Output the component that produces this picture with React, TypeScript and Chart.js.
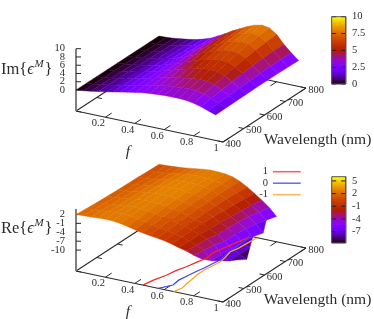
import React, { useEffect, useRef } from "react";
import { Chart, registerables } from "chart.js";

Chart.register(...registerables);

const fractions = [0, .05, .1, .15, .2, .25, .3, .35, .4, .45, .5, .55, .6, .65, .7, .75, .8, .85, .9, .95];
const imWavelengths = [400, 450, 500, 550, 600, 650, 700, 750, 800];
const imRow400 = [0, .2, .45, .75, 1.05, 1.4, 1.75, 2.1, 2.4, 2.7, 2.9, 3.05, 3.15, 3.2, 3.2, 3.1, 2.8, 2.3, 1.7, 1.1];
const imRow450 = [0, .18, .42, .72, 1.02, 1.38, 1.78, 2.15, 2.5, 2.9, 3.2, 3.45, 3.65, 3.8, 3.9, 3.8, 3.4, 2.7, 1.9, 1.15];
const imRow500 = [0, .15, .4, .7, 1.0, 1.35, 1.8, 2.2, 2.65, 3.05, 3.5, 3.85, 4.15, 4.4, 4.6, 4.5, 4.0, 3.1, 2.1, 1.2];
const imRow550 = [0, .13, .38, .68, .98, 1.32, 1.75, 2.25, 2.75, 3.3, 3.85, 4.3, 4.75, 5.1, 5.3, 5.15, 4.55, 3.45, 2.25, 1.25];
const imRow600 = [0, .12, .35, .65, .95, 1.3, 1.7, 2.3, 2.85, 3.5, 4.2, 4.8, 5.35, 5.8, 6.0, 5.8, 5.1, 3.8, 2.4, 1.3];
const imRow650 = [0, .11, .32, .62, .92, 1.28, 1.68, 2.25, 2.95, 3.7, 4.5, 5.2, 5.85, 6.4, 6.6, 6.4, 5.5, 4.05, 2.55, 1.3];
const imRow700 = [0, .1, .3, .6, .9, 1.25, 1.65, 2.2, 3.0, 3.85, 4.75, 5.55, 6.3, 6.9, 7.2, 6.95, 5.9, 4.3, 2.7, 1.3];
const imRow750 = [0, .08, .25, .52, .8, 1.12, 1.58, 2.15, 3.0, 3.9, 4.9, 5.75, 6.55, 7.2, 7.6, 7.3, 6.2, 4.4, 2.7, 1.25];
const imRow800 = [0, .05, .2, .45, .7, 1.0, 1.5, 2.1, 3.0, 3.95, 5.0, 5.9, 6.8, 7.5, 7.9, 7.6, 6.4, 4.4, 2.7, 1.2];
const imRows = [imRow400, imRow450, imRow500, imRow550, imRow600, imRow650, imRow700, imRow750, imRow800];

const reWavelengths = [400, 450, 500, 550, 600, 650, 700, 750, 800];
const n = null;
const reRow400 = [2.0, 2.1, 2.2, 2.35, 2.45, 2.4, 2.1, 1.6, 1.0, .5, .1, -.2, -.6, -1.2, -1.9, -2.5, -3.4, -4, n, n];
const reRow450 = [1.7, 1.85, 2.0, 2.25, 2.45, 2.45, 2.3, 1.85, 1.3, .8, .4, 0, -.5, -1.1, -1.9, -2.8, -4, -7, n, n];
const reRow500 = [1.5, 1.65, 1.9, 2.15, 2.35, 2.55, 2.5, 2.15, 1.7, 1.2, .8, .25, -.4, -1.1, -2, -3, -4.5, -7.2, -8.8, -8];
const reRow550 = [1.3, 1.5, 1.75, 2.05, 2.35, 2.6, 2.7, 2.45, 2.05, 1.55, 1.1, .45, -.3, -1.1, -2.3, -3.7, -5.5, -7.5, -8.8, -10];
const reRow600 = [1.15, 1.35, 1.65, 2.0, 2.35, 2.65, 2.75, 2.7, 2.35, 1.85, 1.3, .65, -.2, -1.2, -2.5, -3.9, -5.6, -7.6, -9, n];
const reRow650 = [1.05, 1.25, 1.55, 1.9, 2.25, 2.6, 2.75, 2.75, 2.5, 2.05, 1.5, .75, -.2, -1.4, -2.8, -4.2, -5.8, -8, n, n];
const reRow700 = [.95, 1.1, 1.35, 1.7, 2.1, 2.5, 2.7, 2.75, 2.6, 2.2, 1.65, .85, -.2, -1.7, -3.1, -4.6, -6.5, -9, n, n];
const reRow750 = [.8, .95, 1.15, 1.45, 1.85, 2.2, 2.5, 2.6, 2.5, 2.2, 1.65, .85, -.4, -2, -3.6, -5.3, -7.5, n, n, n];
const reRow800 = [.7, .85, 1.0, 1.2, 1.5, 1.85, 2.2, 2.4, 2.4, 2.2, 1.7, .75, -.7, -2.3, -4.1, -6, -8.5, n, n, n];
const reRows = [reRow400, reRow450, reRow500, reRow550, reRow600, reRow650, reRow700, reRow750, reRow800];

const contourRedF = [.455, .47, .499, .51, .535, .55, .57, .56, .579, .6, .625];
const contourRedL = [400, 440, 485, 520, 556, 590, 627, 665, 703, 750, 796];
const contourBlueF = [.56, .609, .6, .61, .62, .634, .653, .64, .635, .63, .628];
const contourBlueL = [400, 436, 470, 503, 535, 568, 631, 670, 716, 750, 789];
const contourOrangeF = [.664, .68, .669, .653, .65, .669, .66, .641, .655, .66, .669];
const contourOrangeL = [400, 430, 461, 520, 557, 620, 650, 688, 720, 760, 798];

const fTicks = [0.2, 0.4, 0.6, 0.8, 1];
const fTickLabels = ["0.2", "0.4", "0.6", "0.8", "1"];
const lambdaTicks = [400, 500, 600, 700, 800];
const imZTicks = [0, 2, 4, 6, 8, 10];
const reZTicks = [2, -1, -4, -7, -10];
const imBarTicks = [0, 2.5, 5, 7.5, 10];
const imBarLabels = ["0", "2.5", "5", "7.5", "10"];
const reBarTicks = [-7, -4, -1, 2, 5];
const legendLabels = ["1", "0", "-1"];
const legendColours = ["#ff5a5a", "#6464ff", "#ffb45a"];

const FONT = '"Liberation Serif", serif';

type Pt = { x: number; y: number };
type Panel = {
  top: number; z0: number; zk: number; zMin: number; zMax: number;
  barTop: number; barBottom: number; barMin: number; barMax: number; axisTopZ: number;
};
const imPanel: Panel = { top: 0, z0: 90, zk: 4.13, zMin: 0, zMax: 10, barTop: 16.7, barBottom: 84, barMin: 0, barMax: 10, axisTopZ: 10 };
const rePanel: Panel = { top: 160, z0: 220.4, zk: 2.97, zMin: -10, zMax: 6, barTop: 176.7, barBottom: 243, barMin: -9.7, barMax: 6, axisTopZ: 3.84 };

const project = (p: Panel, f: number, lam: number, z: number): Pt => {
  const l = (lam - 400) / 400;
  return { x: 76 + 147 * f + 83 * l, y: p.z0 + 31 * f - 54 * l - p.zk * z };
};
const base = (p: Panel, f: number, lam: number): Pt => {
  const l = (lam - 400) / 400;
  return { x: 76 + 147 * f + 83 * l, y: p.top + 111 + 31 * f - 54 * l };
};

const palette = (t: number) => {
  const x = Math.min(1, Math.max(0, t));
  const r = Math.sqrt(x), g = x * x * x, b = Math.max(0, Math.sin(2 * Math.PI * x));
  return `rgb(${Math.round(r * 255)},${Math.round(g * 255)},${Math.round(b * 255)})`;
};

const poly = (pts: Pt[], colour: string, bw = 0.4) => ({
  data: [...pts, pts[0]],
  showLine: true,
  fill: "shape",
  backgroundColor: colour,
  borderColor: colour,
  borderWidth: bw,
  pointRadius: 0,
  tension: 0,
  clip: false,
});
const seg = (pts: Pt[], colour: string, bw = 1) => ({
  data: pts,
  showLine: true,
  fill: false,
  borderColor: colour,
  borderWidth: bw,
  pointRadius: 0,
  tension: 0,
  clip: false,
});

const AXIS = "#2a2a2a";

const axesFor = (p: Panel, zTicks: number[]) => {
  const out: any[] = [];
  out.push(seg([base(p, 0, 400), base(p, 1, 400)], AXIS, 1.1));
  out.push(seg([base(p, 1, 400), base(p, 1, 800)], AXIS, 1.1));
  out.push(seg([base(p, 0, 400), base(p, 0, 800)], AXIS, 1.1));
  out.push(seg([base(p, 0, 800), base(p, 1, 800)], AXIS, 1.1));
  fTicks.forEach((f) => {
    out.push(seg([base(p, f, 400), base(p, f, 430)], AXIS));
    out.push(seg([base(p, f, 800), base(p, f, 770)], AXIS));
  });
  lambdaTicks.forEach((lam) => {
    out.push(seg([base(p, 1, lam), base(p, 0.965, lam)], AXIS));
    out.push(seg([base(p, 0, lam), base(p, 0.035, lam)], AXIS));
  });
  out.push(seg([base(p, 0, 400), project(p, 0, 400, p.axisTopZ)], "#808080", 2));
  zTicks.forEach((z) => {
    const a = project(p, 0, 400, z);
    out.push(seg([a, { x: a.x + 5, y: a.y }], AXIS));
  });
  return out;
};

const surfaceFor = (p: Panel, rows: (number | null)[][], lams: number[]) => {
  const out: any[] = [];
  for (let j = lams.length - 2; j >= 0; j--) {
    for (let i = 0; i < fractions.length - 1; i++) {
      const corners: [number, number][] = [[i, j], [i + 1, j], [i + 1, j + 1], [i, j + 1]];
      const ok = corners.filter(([a, b]) => rows[b][a] !== null);
      if (ok.length < 3) continue;
      const pts = ok.map(([a, b]) => project(p, fractions[a], lams[b], rows[b][a] as number));
      const peak = (b: number) => {
        const vals = [rows[b][i], rows[b][i + 1]].filter((v) => v !== null) as number[];
        return vals.length ? Math.max(...vals) : null;
      };
      const peaks = [peak(j), peak(j + 1)].filter((v) => v !== null) as number[];
      const shade = peaks.reduce((s, v) => s + v, 0) / peaks.length;
      out.push(poly(pts, palette((shade - p.zMin) / (p.zMax - p.zMin))));
    }
  }
  return out;
};

const barFor = (p: Panel, ticks: number[]) => {
  const out: any[] = [];
  const x0 = 331.7, x1 = 345.7;
  const h = p.barBottom - p.barTop;
  const levels = Array.from({ length: Math.ceil(h) }, (_, i) => i);
  const Y = (v: number) => p.barBottom - ((v - p.barMin) / (p.barMax - p.barMin)) * h;
  levels.forEach((i) => {
    const yy = p.barBottom - i;
    const t = (i + 0.5) / h;
    out.push(poly([{ x: x0, y: yy }, { x: x1, y: yy }, { x: x1, y: Math.max(p.barTop, yy - 1) }, { x: x0, y: Math.max(p.barTop, yy - 1) }], palette(t), 0.3));
  });
  ticks.forEach((v) => {
    const yy = Y(v);
    out.push(seg([{ x: x0, y: yy }, { x: x0 + 4.5, y: yy }], "#222"));
    out.push(seg([{ x: x1 - 4.5, y: yy }, { x: x1, y: yy }], "#222"));
  });
  out.push(seg([{ x: x0, y: p.barTop }, { x: x1, y: p.barTop }, { x: x1, y: p.barBottom }, { x: x0, y: p.barBottom }, { x: x0, y: p.barTop }], "#555", 1));
  return out;
};

const contour = (fs: number[], ls: number[], colour: string) =>
  seg(fs.map((f, i) => base(rePanel, f, ls[i])), colour, 1.25);

const legendLine = (i: number) => {
  const y = 171.7 + 11.5 * i;
  return seg([{ x: 273, y }, { x: 300.7, y }], legendColours[i], 1.5);
};

const drawText = (ctx: CanvasRenderingContext2D, text: string, x: number, y: number, size: number, align: CanvasTextAlign = "center", italic = false) => {
  ctx.font = `${italic ? "italic " : ""}${size}px ${FONT}`;
  ctx.textAlign = align;
  ctx.textBaseline = "middle";
  ctx.fillStyle = "#2c2c2c";
  ctx.fillText(text, x, y);
};

const drawFormula = (ctx: CanvasRenderingContext2D, name: string, x: number, y: number) => {
  let cx = x;
  const put = (t: string, size: number, italic: boolean, dy = 0) => {
    drawText(ctx, t, cx, y + dy, size, "left", italic);
    cx += ctx.measureText(t).width;
  };
  put(name + "{", 16.5, false);
  put("\u03F5", 16.5, true);
  cx += 0.5;
  put("M", 11, true, -6);
  cx += 1;
  put("}", 16.5, false);
};

const labelsPlugin = {
  id: "labels",
  afterDatasetsDraw(chart: any) {
    const ctx = chart.ctx as CanvasRenderingContext2D;
    ctx.save();
    [imPanel, rePanel].forEach((p) => {
      fTicks.forEach((f, i) => {
        const b = base(p, f, 400);
        drawText(ctx, fTickLabels[i], b.x - 7, b.y + 6.5, 10.5);
      });
      lambdaTicks.forEach((lam) => {
        const b = base(p, 1, lam);
        drawText(ctx, String(lam), b.x + 10, b.y + 2, 10.5);
      });
      drawText(ctx, "Wavelength (nm)", 317.5, p.top + 140, 15.5);
      drawText(ctx, "f", 128, p.top + 152, 15.5, "center", true);
    });
    imZTicks.forEach((z) => {
      const a = project(imPanel, 0, 400, z);
      drawText(ctx, String(z), 65, a.y, 10.5, "right");
    });
    reZTicks.forEach((z) => {
      const a = project(rePanel, 0, 400, z);
      drawText(ctx, String(z), 65, a.y, 10.5, "right");
    });
    imBarTicks.forEach((v, i) => {
      const yy = imPanel.barBottom - ((v - imPanel.barMin) / (imPanel.barMax - imPanel.barMin)) * (imPanel.barBottom - imPanel.barTop);
      drawText(ctx, imBarLabels[i], 352, yy, 10.5, "left");
    });
    reBarTicks.forEach((v) => {
      const yy = rePanel.barBottom - ((v - rePanel.barMin) / (rePanel.barMax - rePanel.barMin)) * (rePanel.barBottom - rePanel.barTop);
      drawText(ctx, String(v), 352, yy, 10.5, "left");
    });
    legendLabels.forEach((t, i) => drawText(ctx, t, 268, 171.7 + 11.5 * i, 10.5, "right"));
    drawFormula(ctx, "Im", 1, 70);
    drawFormula(ctx, "Re", 1, 229);
    ctx.restore();
  },
};

export default function App() {
  const ref = useRef<HTMLCanvasElement>(null);
  useEffect(() => {
    document.body.style.margin = "0";
    const ordered = [
      ...axesFor(imPanel, imZTicks),
      ...surfaceFor(imPanel, imRows, imWavelengths),
      ...axesFor(rePanel, reZTicks),
      ...surfaceFor(rePanel, reRows, reWavelengths),
      contour(contourRedF, contourRedL, "#f02828"),
      contour(contourBlueF, contourBlueL, "#4444f0"),
      contour(contourOrangeF, contourOrangeL, "#ffa028"),
      legendLine(0), legendLine(1), legendLine(2),
      ...barFor(imPanel, imBarTicks),
      ...barFor(rePanel, reBarTicks),
    ];
    const chart = new Chart(ref.current as HTMLCanvasElement, {
      type: "scatter",
      data: { datasets: ordered.reverse() },
      options: {
        animation: false,
        responsive: false,
        events: [],
        layout: { padding: 0 },
        plugins: { legend: { display: false }, tooltip: { enabled: false } },
        scales: {
          x: { type: "linear", min: 0, max: 374, display: false },
          y: { type: "linear", min: 0, max: 319, reverse: true, display: false },
        },
      },
      plugins: [labelsPlugin],
    } as any);
    return () => chart.destroy();
  }, []);
  return <canvas ref={ref} width={374} height={319} style={{ display: "block" }} />;
}
